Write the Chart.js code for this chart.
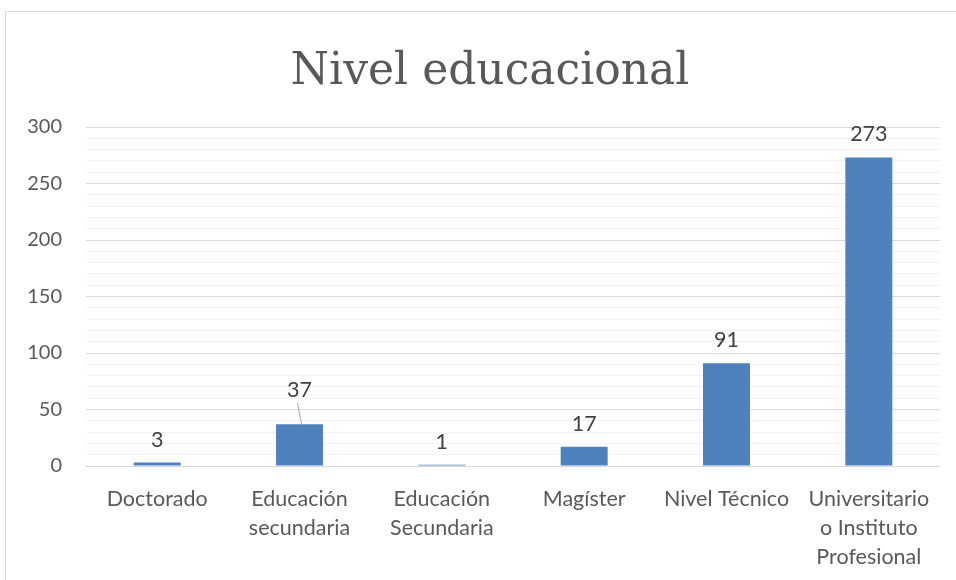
<!DOCTYPE html>
<html>
<head>
<meta charset="utf-8">
<script src="https://cdn.jsdelivr.net/npm/chart.js@4"></script>
<style>
  html, body { margin: 0; padding: 0; background: #fff; }
  #wrap { position: relative; width: 956px; height: 580px; overflow: hidden; }
  #frame { position: absolute; left: 5px; top: 11px; width: 1000px; height: 700px; border: 1px solid #d9d9d9; }
  canvas { position: absolute; left: 0; top: 0; }
</style>
</head>
<body>
<div id="wrap">
  <div id="frame"></div>
  <canvas id="myChart" width="956" height="580"></canvas>
</div>
<script>
let title = "Nivel educacional";
let labels = [
  "Doctorado",
  ["Educación", "secundaria"],
  ["Educación", "Secundaria"],
  "Magíster",
  "Nivel Técnico",
  ["Universitario", "o Instituto", "Profesional"],
];
let values = [3, 37, 1, 17, 91, 273];

let font = "Lato, 'Liberation Sans', sans-serif";

// title centred on the whole (wider) chart frame, not the canvas
let titleDraw = {
  id: "titleDraw",
  afterDraw(chart) {
    let ctx = chart.ctx;
    ctx.save();
    ctx.font = "44px 'DejaVu Serif', serif";
    ctx.fillStyle = "#595959";
    ctx.textAlign = "center";
    ctx.textBaseline = "alphabetic";
    ctx.fillText(title, 490, 84);
    ctx.restore();
  },
};

// value labels above the bars (the "37" label sits higher with a leader line, like Excel moved it)
let valueLabels = {
  id: "valueLabels",
  afterDatasetsDraw(chart) {
    let ctx = chart.ctx;
    let meta = chart.getDatasetMeta(0);
    ctx.save();
    ctx.font = "21.5px " + font;
    ctx.fillStyle = "#404040";
    ctx.textAlign = "center";
    ctx.textBaseline = "middle";
    meta.data.forEach((bar, i) => {
      let lift = i == 1 ? 34 : 23;
      let y = bar.y - lift;
      ctx.fillText(values[i], bar.x, y);
      if (i == 1) {
        ctx.strokeStyle = "#a6a6a6";
        ctx.lineWidth = 1;
        ctx.beginPath();
        ctx.moveTo(bar.x - 2, y + 13);
        ctx.lineTo(bar.x + 2, bar.y);
        ctx.stroke();
      }
    });
    ctx.restore();
  },
};

let ctx = document.getElementById("myChart").getContext("2d");

let myChart = new Chart(ctx, {
  type: "bar",
  data: {
    labels,
    datasets: [
      {
        data: values,
        backgroundColor: "#4f81bd",
        barPercentage: 0.33,
        categoryPercentage: 1,
      },
    ],
  },
  options: {
    responsive: false,
    animation: false,
    layout: { padding: { left: 0, right: 16, top: 127, bottom: 0 } },
    plugins: {
      legend: { display: false },
      tooltip: { enabled: false },
      title: { display: false },
    },
    scales: {
      x: {
        grid: { display: false },
        border: { display: false },
        ticks: {
          color: "#595959",
          font: { family: font, size: 21.5, lineHeight: 1.36 },
          padding: 10,
          maxRotation: 0,
          autoSkip: false,
        },
        afterFit(scale) {
          scale.height = 114;
        },
      },
      y: {
        min: 0,
        max: 300,
        border: { display: false },
        grid: {
          color: (c) => (c.tick.value % 50 == 0 ? "#d9d9d9" : "#f2f2f2"),
          lineWidth: 1,
          drawTicks: false,
        },
        ticks: {
          stepSize: 10,
          color: "#595959",
          font: { family: font, size: 20 },
          padding: 24,
          callback: (v) => (v % 50 == 0 ? v : ""),
          autoSkip: false,
        },
        afterFit(scale) {
          scale.width = 86;
        },
      },
    },
  },
  plugins: [valueLabels, titleDraw],
});
</script>
</body>
</html>
